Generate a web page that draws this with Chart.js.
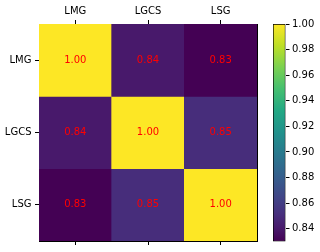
<!DOCTYPE html>
<html>
<head>
<meta charset="utf-8">
<script src="https://cdn.jsdelivr.net/npm/chart.js@4"></script>
<style>
  html, body { margin: 0; padding: 0; background: #fff; }
  #wrap { position: relative; width: 320px; height: 252px; overflow: hidden; }
  #heatBox { position: absolute; left: 0; top: 0; width: 262px; height: 252px; }
  #barBox { position: absolute; left: 262px; top: 0; width: 58px; height: 252px; }
</style>
</head>
<body>
<div id="wrap">
  <div id="heatBox"><canvas id="heat"></canvas></div>
  <div id="barBox"><canvas id="cbar"></canvas></div>
</div>
<script>
// categories (same order for rows and columns)
const labels = ['LMG', 'LGCS', 'LSG'];

// correlation values, one array per row
const rowLMG = [1.00, 0.84, 0.83];
const rowLGCS = [0.84, 1.00, 0.85];
const rowLSG = [0.83, 0.85, 1.00];
const rows = [rowLMG, rowLGCS, rowLSG];

// colour range and colorbar ticks
const colorMin = 0.83;
const colorMax = 1.00;
const cbarTicks = [0.84, 0.86, 0.88, 0.90, 0.92, 0.94, 0.96, 0.98, 1.00];

const FONT = { family: 'DejaVu Sans', size: 10 };
Chart.defaults.font.family = 'DejaVu Sans';
Chart.defaults.font.size = 10;
Chart.defaults.color = '#000';

// viridis stops
const viridis = [
    [0.0, '#440154'], [0.0625, '#481a6c'], [0.125, '#472f7d'], [0.2, '#414487'],
    [0.3, '#355f8d'], [0.4, '#2a788e'], [0.5, '#21918c'], [0.6, '#22a884'],
    [0.7, '#44bf70'], [0.8, '#7ad151'], [0.9, '#bddf26'], [1.0, '#fde725']
];

function hexToRgb(h) {
    return [parseInt(h.slice(1, 3), 16), parseInt(h.slice(3, 5), 16), parseInt(h.slice(5, 7), 16)];
}

function viridisColor(v) {
    let t = (v - colorMin) / (colorMax - colorMin);
    t = Math.max(0, Math.min(1, t));
    for (let i = 1; i < viridis.length; i++) {
        if (t <= viridis[i][0]) {
            const a = viridis[i - 1], b = viridis[i];
            const f = (t - a[0]) / (b[0] - a[0]);
            const ca = hexToRgb(a[1]), cb = hexToRgb(b[1]);
            const c = ca.map((x, k) => Math.round(x + (cb[k] - x) * f));
            return `rgb(${c[0]},${c[1]},${c[2]})`;
        }
    }
    return viridis[viridis.length - 1][1];
}

// write the value in the middle of each cell
const cellText = {
    id: 'cellText',
    afterDatasetsDraw(chart) {
        const ctx = chart.ctx;
        ctx.save();
        ctx.font = '10px "DejaVu Sans"';
        ctx.fillStyle = '#ff0000';
        ctx.textAlign = 'center';
        ctx.textBaseline = 'middle';
        chart.data.datasets.forEach((ds, r) => {
            chart.getDatasetMeta(r).data.forEach((bar, c) => {
                const yMid = (bar.y + bar.base) / 2;
                ctx.fillText(rows[r][c].toFixed(2), bar.x, yMid);
            });
        });
        ctx.restore();
    }
};

const tickGrid = { drawOnChartArea: false, offset: false, tickLength: 4, color: '#000', lineWidth: 1 };

new Chart(document.getElementById('heat'), {
    type: 'bar',
    data: {
        labels: labels,
        datasets: rows.map((row, r) => ({
            label: labels[r],
            data: row.map(() => 1),
            backgroundColor: row.map(viridisColor),
            borderWidth: 0,
            barPercentage: 1,
            categoryPercentage: 1
        }))
    },
    options: {
        responsive: true,
        maintainAspectRatio: false,
        animation: false,
        events: [],
        layout: { padding: { left: 0, right: 5, top: 0, bottom: 0 } },
        plugins: { legend: { display: false }, tooltip: { enabled: false } },
        scales: {
            x: {
                type: 'category',
                position: 'top',
                stacked: true,
                offset: true,
                grid: tickGrid,
                border: { display: true, color: '#000', width: 1 },
                ticks: { font: FONT, color: '#000', padding: 3, maxRotation: 0 },
                afterFit: (s) => { s.height = 24; }
            },
            xb: {
                type: 'category',
                position: 'bottom',
                offset: true,
                grid: tickGrid,
                border: { display: true, color: '#000', width: 1 },
                ticks: { display: false },
                afterFit: (s) => { s.height = 11; }
            },
            y: {
                type: 'linear',
                position: 'left',
                stacked: true,
                min: 0,
                max: 3,
                reverse: true,
                grid: tickGrid,
                border: { display: true, color: '#000', width: 1 },
                afterBuildTicks: (s) => { s.ticks = [0.5, 1.5, 2.5].map(v => ({ value: v })); },
                ticks: {
                    font: FONT, color: '#000', padding: 3.5,
                    callback: (v, i) => labels[i]
                },
                afterFit: (s) => { s.width = 39; }
            },
            yr: {
                type: 'linear',
                position: 'right',
                grid: { display: false },
                border: { display: true, color: '#000', width: 1 },
                ticks: { display: false },
                afterFit: (s) => { s.width = 0; }
            }
        }
    },
    plugins: [cellText]
});

// colorbar: one floating bar filled with the colour map
function cbarFill(context) {
    const chart = context.chart;
    if (!chart.chartArea) return viridis[0][1];
    const ys = chart.scales.y;
    const g = chart.ctx.createLinearGradient(0, ys.getPixelForValue(colorMin), 0, ys.getPixelForValue(colorMax));
    viridis.forEach(([t, col]) => g.addColorStop(t, col));
    return g;
}

new Chart(document.getElementById('cbar'), {
    type: 'bar',
    data: {
        labels: [''],
        datasets: [{
            data: [[colorMin, colorMax]],
            backgroundColor: cbarFill,
            borderColor: '#000',
            borderWidth: 1,
            borderSkipped: false,
            barPercentage: 1,
            categoryPercentage: 1
        }]
    },
    options: {
        responsive: true,
        maintainAspectRatio: false,
        animation: false,
        events: [],
        layout: { padding: { left: 11, right: 0, top: 24, bottom: 10.5 } },
        plugins: { legend: { display: false }, tooltip: { enabled: false } },
        scales: {
            x: { display: false },
            y: {
                type: 'linear',
                position: 'right',
                min: colorMin,
                max: colorMax,
                grid: { drawOnChartArea: false, tickLength: 4, color: '#000', lineWidth: 1 },
                border: { display: false },
                afterBuildTicks: (s) => { s.ticks = cbarTicks.map(v => ({ value: v })); },
                ticks: { font: FONT, color: '#000', padding: 2.5, callback: (v) => v.toFixed(2) },
                afterFit: (s) => { s.width = 34.5; }
            }
        }
    }
});
</script>
</body>
</html>
